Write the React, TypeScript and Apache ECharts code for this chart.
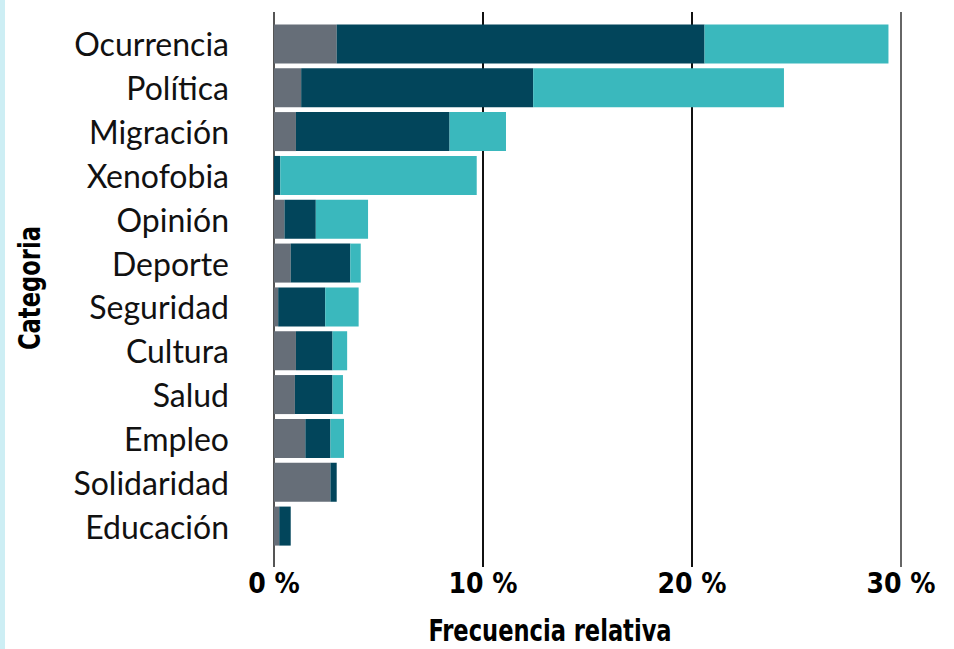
import React, { useEffect, useRef } from "react";
import * as echarts from "echarts";

const categories = ["Ocurrencia", "Política", "Migración", "Xenofobia", "Opinión", "Deporte", "Seguridad", "Cultura", "Salud", "Empleo", "Solidaridad", "Educación"];
const greyValues = [3.0, 1.3, 1.05, 0, 0.5, 0.8, 0.2, 1.05, 1.0, 1.5, 2.7, 0.25];
const darkValues = [17.6, 11.1, 7.35, 0.3, 1.5, 2.85, 2.25, 1.75, 1.8, 1.2, 0.3, 0.55];
const lightValues = [8.8, 12.0, 2.7, 9.4, 2.5, 0.5, 1.6, 0.7, 0.5, 0.65, 0, 0];
const xTicks = [0, 10, 20, 30];

const COND = '"Liberation Sans Narrow", "DejaVu Sans Condensed", "Roboto", sans-serif';

export default function App() {
  const ref = useRef<HTMLDivElement>(null);
  useEffect(() => {
    document.body.style.margin = "0";
    const chart = echarts.init(ref.current!, null, { renderer: "svg" });
    const mk = (name: string, data: number[], color: string) => ({
      name,
      type: "bar",
      stack: "total",
      data,
      xAxisIndex: 0,
      yAxisIndex: 0,
      barWidth: "89%",
      itemStyle: { color },
      emphasis: { disabled: true },
    });
    chart.setOption({
      animation: false,
      backgroundColor: "#ffffff",
      grid: [
        { left: 274, right: 53, top: 22, bottom: 101 },
        { left: 274, right: 53, top: 12, bottom: 82 },
      ],
      xAxis: [
        {
          gridIndex: 0,
          type: "value",
          min: xTicks[0],
          max: xTicks[xTicks.length - 1],
          interval: 10,
          axisLine: { show: false },
          axisTick: { show: false },
          axisLabel: { show: false },
          splitLine: { show: false },
        },
        {
          gridIndex: 1,
          type: "value",
          min: xTicks[0],
          max: xTicks[xTicks.length - 1],
          interval: 10,
          axisLine: { show: false },
          axisTick: { show: false },
          splitLine: { show: true, lineStyle: { color: ["#555555", "#111111", "#111111", "#666666"], width: 2 } },
          axisLabel: {
            formatter: (v: number) => v + " %",
            fontFamily: COND,
            fontWeight: "bold",
            fontSize: 28,
            color: "#000000",
            margin: 2,
            verticalAlign: "top",
          },
        },
      ],
      yAxis: [
        {
          gridIndex: 0,
          type: "category",
          data: categories,
          inverse: true,
          axisLine: { show: false },
          axisTick: { show: false },
          axisLabel: {
            fontFamily: "Lato, 'Noto Sans', sans-serif",
            fontSize: 32,
            color: "#111111",
            margin: 45,
          },
        },
        {
          gridIndex: 1,
          type: "value",
          show: false,
          min: 0,
          max: 1,
        },
      ],
      graphic: [
        { type: "rect", left: 0, top: 0, shape: { width: 5, height: 649 }, style: { fill: "#cdeef4" } },
        {
          type: "text",
          x: 550,
          y: 631,
          scaleX: 0.81,
          style: {
            text: "Frecuencia relativa",
            fontFamily: COND,
            fontWeight: "bold",
            fontSize: 31,
            fill: "#000000",
            align: "center",
            verticalAlign: "middle",
          },
        },
        {
          type: "text",
          x: 30,
          y: 288,
          rotation: Math.PI / 2,
          scaleX: 0.84,
          style: {
            text: "Categoria",
            fontFamily: COND,
            fontWeight: "bold",
            fontSize: 30,
            fill: "#000000",
            align: "center",
            verticalAlign: "middle",
          },
        },
      ],
      series: [
        mk("grey", greyValues, "#666e78"),
        mk("dark", darkValues, "#02455b"),
        mk("light", lightValues, "#3ab8bd"),
      ],
    });
    return () => chart.dispose();
  }, []);
  return <div ref={ref} style={{ width: 954, height: 649 }} />;
}
